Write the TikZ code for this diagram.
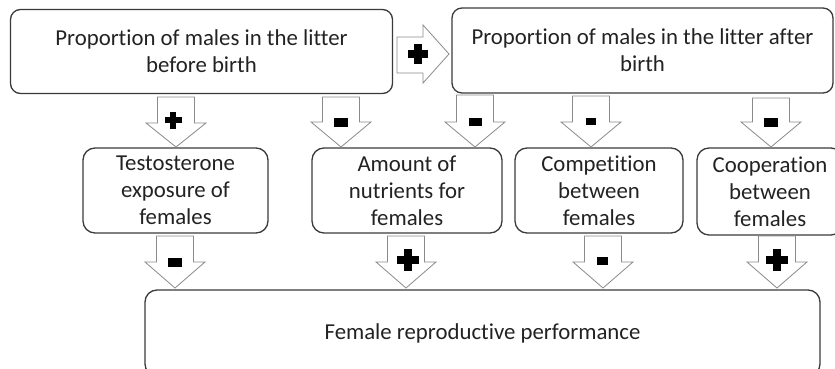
\documentclass[tikz,border=0pt]{standalone}
\usepackage{fontspec}
\setmainfont{Carlito}[Ligatures={NoCommon}]
\definecolor{boxline}{HTML}{3A3A3A}
\definecolor{arrline}{HTML}{8A8A8A}
\definecolor{txt}{HTML}{222222}
\newcommand{\DArrow}[4]{% cx, ytop, yhead, ytip
  \draw[blockarr] (#1-18.5,#2) -- (#1+18.5,#2) -- (#1+18.5,#3) -- (#1+30,#3) -- (#1,#4) -- (#1-30,#3) -- (#1-18.5,#3) -- cycle;}
\newcommand{\PlusSign}[3]{% cx, cy, size
  \fill[signcol] (#1-#3/2,#2-#3*0.2) rectangle (#1+#3/2,#2+#3*0.2);
  \fill[signcol] (#1-#3*0.2,#2-#3/2) rectangle (#1+#3*0.2,#2+#3/2);}
\newcommand{\MinusSign}[4]{% cx, cy, w, h
  \fill[signcol] (#1-#3/2,#2-#4/2) rectangle (#1+#3/2,#2+#4/2);}
\begin{document}
\begin{tikzpicture}[x=1pt,y=-1pt,
  box/.style={draw=boxline, line width=1.3pt, rounded corners=10pt, align=center,
    font=\fontsize{22.8}{27}\selectfont, text=txt, inner sep=0pt},
  blockarr/.style={draw=arrline, line width=0.8pt, fill=white, line join=miter},
  signcol/.style={black}]
\useasboundingbox (0,0) rectangle (835,369);
% boxes
\node[box, minimum width=382pt, minimum height=84pt] (before) at (201.5,51.5) {Proportion of males in the litter\\before birth};
\node[box, minimum width=381pt, minimum height=85pt] (after) at (642.5,50.5) {Proportion of males in the litter after\\birth};
\node[box, minimum width=185pt, minimum height=85pt, rounded corners=12pt] (testo) at (175.5,190.5) {Testosterone\\exposure of\\females};
\node[box, minimum width=190pt, minimum height=85pt, rounded corners=12pt] (nutr) at (407,190.5) {Amount of\\nutrients for\\females};
\node[box, minimum width=168pt, minimum height=85pt, rounded corners=12pt] (comp) at (599,190.5) {Competition\\between\\females};
\node[box, minimum width=146pt, minimum height=87pt, rounded corners=12pt] (coop) at (770,191.5) {Cooperation\\between\\females};
\node[box, minimum width=675pt, minimum height=86pt, rounded corners=12pt] (perf) at (482.5,333) {Female reproductive performance};
% horizontal arrow
\draw[blockarr] (397,37) -- (423,37) -- (423,25) -- (449,54) -- (423,83) -- (423,73) -- (397,73) -- cycle;
\PlusSign{418}{54}{20}
% top row arrows
\DArrow{176}{97}{123}{147}
\DArrow{341}{97}{122}{147}
\DArrow{475}{95}{122}{147}
\DArrow{591}{96}{122}{147}
\DArrow{771}{98}{122}{147}
\PlusSign{173}{120}{17}
\MinusSign{341}{122}{14}{9}
\MinusSign{475}{122}{13}{8}
\MinusSign{591}{121}{10}{7}
\MinusSign{771}{122}{14}{9}
% bottom row arrows
\DArrow{175}{236}{262}{288}
\DArrow{406}{236}{262}{288}
\DArrow{603}{236}{262}{288}
\DArrow{777}{236}{262}{288}
\MinusSign{175}{262}{14}{9}
\PlusSign{408}{260}{22}
\MinusSign{602}{261}{11}{8}
\PlusSign{777}{260}{22}
\end{tikzpicture}
\end{document}
